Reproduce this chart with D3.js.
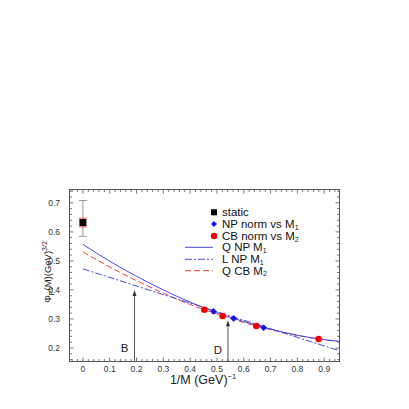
<!DOCTYPE html>
<html>
<head>
<meta charset="utf-8">
<script src="https://cdn.jsdelivr.net/npm/d3@7"></script>
<style>
  body { margin: 0; background: #fff; }
  text { font-family: "Liberation Sans", Arial, sans-serif; }
</style>
</head>
<body>
<script>
// static point with its two error bars
var staticX = 0, staticY = 0.632;
var staticErrOuter = [0.585, 0.708];
var staticErrInner = [0.617, 0.647];

// NP norm vs M1 (blue diamonds)
var npX = [0.487, 0.562, 0.674];
var npY = [0.326, 0.302, 0.270];

// CB norm vs M2 (red circles)
var cbX = [0.453, 0.521, 0.647, 0.879];
var cbY = [0.332, 0.310, 0.276, 0.231];

// curves
var curveX   = [0, 0.1, 0.2, 0.3, 0.4, 0.5, 0.6, 0.7, 0.8, 0.9, 0.955];
var qNpM1    = [0.557, 0.499, 0.447, 0.400, 0.358, 0.322, 0.291, 0.265, 0.244, 0.229, 0.223];
var qCbM2    = [0.531, 0.479, 0.432, 0.389, 0.350, 0.317, 0.288, 0.263, 0.243, 0.228, 0.222];
var lNpX     = [0, 0.955];
var lNpM1    = [0.4725, 0.191];

// arrows B and D
var arrowNames = ["B", "D"];
var arrowX = [0.1925, 0.541];
var arrowTop = [0.400, 0.296];

var xTicks = [0, 0.1, 0.2, 0.3, 0.4, 0.5, 0.6, 0.7, 0.8, 0.9];
var yTicks = [0.2, 0.3, 0.4, 0.5, 0.6, 0.7];

var width = 409, height = 409;
var pLeft = 69.5, pRight = 339.5, pTop = 189.5, pBottom = 361.5;

var svg = d3.select("body").append("svg")
    .attr("width", width)
    .attr("height", height);

var x = d3.scaleLinear().domain([-0.05, 0.957]).range([pLeft, pRight]);
var y = d3.scaleLinear().domain([0.1535, 0.746]).range([pBottom, pTop]);

var axisColor = "#555";
var labelColor = "#333";

// minor / major ticks on all four sides, pointing inward
var xMinor = d3.range(-0.04, 0.951, 0.02);
var yMinor = d3.range(0.16, 0.741, 0.02);
var tickG = svg.append("g").attr("stroke", axisColor).attr("stroke-width", 0.8);
xMinor.forEach(function(v) {
    var major = Math.abs(Math.round(v * 10) - v * 10) < 1e-6;
    var len = major ? 4 : 2.5;
    tickG.append("line").attr("x1", x(v)).attr("x2", x(v)).attr("y1", pBottom).attr("y2", pBottom - len);
    tickG.append("line").attr("x1", x(v)).attr("x2", x(v)).attr("y1", pTop).attr("y2", pTop + len);
});
yMinor.forEach(function(v) {
    var major = Math.abs(Math.round(v * 10) - v * 10) < 1e-6;
    var len = major ? 4 : 2.5;
    tickG.append("line").attr("y1", y(v)).attr("y2", y(v)).attr("x1", pLeft).attr("x2", pLeft + len);
    tickG.append("line").attr("y1", y(v)).attr("y2", y(v)).attr("x1", pRight).attr("x2", pRight - len);
});

// frame
svg.append("rect")
    .attr("x", pLeft).attr("y", pTop)
    .attr("width", pRight - pLeft).attr("height", pBottom - pTop)
    .attr("fill", "none").attr("stroke", axisColor).attr("stroke-width", 1);

// tick labels
svg.append("g").selectAll("text").data(xTicks).enter().append("text")
    .attr("x", function(d) { return x(d); })
    .attr("y", 372)
    .attr("text-anchor", "middle")
    .attr("font-size", 8.5)
    .attr("fill", labelColor)
    .text(function(d) { return d === 0 ? "0" : d3.format(".1f")(d); });

svg.append("g").selectAll("text").data(yTicks).enter().append("text")
    .attr("x", 60)
    .attr("y", function(d) { return y(d) + 3; })
    .attr("text-anchor", "end")
    .attr("font-size", 8.5)
    .attr("fill", labelColor)
    .text(function(d) { return d3.format(".1f")(d); });

// axis titles
var xt = svg.append("text")
    .attr("x", 203).attr("y", 384)
    .attr("text-anchor", "middle")
    .attr("font-size", 12.5)
    .attr("fill", "#222");
xt.append("tspan").text("1/M (GeV)");
xt.append("tspan").attr("dy", -5).attr("font-size", 7.5).text("\u22121");

var yt = svg.append("text")
    .attr("transform", "translate(51,272) rotate(-90)")
    .attr("text-anchor", "middle")
    .attr("font-size", 9.5)
    .attr("fill", "#222");
yt.append("tspan").text("\u03A6");
yt.append("tspan").attr("dy", 2.5).attr("font-size", 7).text("P");
yt.append("tspan").attr("dy", -2.5).text("(M)(GeV)");
yt.append("tspan").attr("dy", -4).attr("font-size", 7).text("3/2");

// curves
var line = d3.line()
    .x(function(d) { return x(d[0]); })
    .y(function(d) { return y(d[1]); })
    .curve(d3.curveMonotoneX);

svg.append("path")
    .datum(d3.zip(curveX, qCbM2))
    .attr("d", line)
    .attr("fill", "none").attr("stroke", "#f03c3c").attr("stroke-width", 1)
    .attr("stroke-dasharray", "6,3");

svg.append("path")
    .datum(d3.zip(lNpX, lNpM1))
    .attr("d", line)
    .attr("fill", "none").attr("stroke", "#4a4ae8").attr("stroke-width", 1)
    .attr("stroke-dasharray", "7,2,2,2");

svg.append("path")
    .datum(d3.zip(curveX, qNpM1))
    .attr("d", line)
    .attr("fill", "none").attr("stroke", "#4a4ae8").attr("stroke-width", 1);

// arrows
var arrowG = svg.append("g");
arrowNames.forEach(function(name, i) {
    var ax = x(arrowX[i]), ay = y(arrowTop[i]);
    arrowG.append("line")
        .attr("x1", ax).attr("x2", ax).attr("y1", pBottom).attr("y2", ay + 4)
        .attr("stroke", "#444").attr("stroke-width", 0.9);
    arrowG.append("path")
        .attr("d", "M" + ax + "," + ay + "L" + (ax - 2) + "," + (ay + 6) + "L" + (ax + 2) + "," + (ay + 6) + "Z")
        .attr("fill", "#333");
    arrowG.append("text")
        .attr("x", ax - 10).attr("y", name === "B" ? 352 : 354)
        .attr("text-anchor", "middle")
        .attr("font-size", 11.5)
        .attr("fill", "#222")
        .text(name);
});

// static point with error bars
function errBar(lo, hi, color, w) {
    var cx = x(staticX);
    svg.append("line").attr("x1", cx).attr("x2", cx).attr("y1", y(lo)).attr("y2", y(hi))
        .attr("stroke", color).attr("stroke-width", 1);
    [lo, hi].forEach(function(v) {
        svg.append("line").attr("x1", cx - w).attr("x2", cx + w).attr("y1", y(v)).attr("y2", y(v))
            .attr("stroke", color).attr("stroke-width", 1);
    });
}
errBar(staticErrOuter[0], staticErrOuter[1], "#999", 4);
errBar(staticErrInner[0], staticErrInner[1], "#f06060", 4);
svg.append("rect")
    .attr("x", x(staticX) - 3.5).attr("y", y(staticY) - 3.5)
    .attr("width", 7).attr("height", 7)
    .attr("fill", "#000");

// data markers
var diamond = d3.symbol().type(d3.symbolSquare).size(22);
svg.append("g").selectAll("circle").data(d3.zip(cbX, cbY)).enter().append("circle")
    .attr("cx", function(d) { return x(d[0]); })
    .attr("cy", function(d) { return y(d[1]); })
    .attr("r", 3.3)
    .attr("fill", "#f00000");
svg.append("g").selectAll("path").data(d3.zip(npX, npY)).enter().append("path")
    .attr("d", diamond)
    .attr("transform", function(d) { return "translate(" + x(d[0]) + "," + y(d[1]) + ") rotate(45)"; })
    .attr("fill", "#1010f0");

// legend
var lgX = 214, lgText = 222;
var rows = [212.3, 224, 236, 247.3, 259.3, 270.7];
var lg = svg.append("g");
lg.append("rect").attr("x", lgX - 3).attr("y", rows[0] - 3).attr("width", 6).attr("height", 6).attr("fill", "#000");
lg.append("path").attr("d", d3.symbol().type(d3.symbolSquare).size(18))
    .attr("transform", "translate(" + lgX + "," + rows[1] + ") rotate(45)").attr("fill", "#1010f0");
lg.append("circle").attr("cx", lgX).attr("cy", rows[2]).attr("r", 3.2).attr("fill", "#f00000");
lg.append("line").attr("x1", 185).attr("x2", 213).attr("y1", rows[3]).attr("y2", rows[3])
    .attr("stroke", "#4a4ae8").attr("stroke-width", 1);
lg.append("line").attr("x1", 185).attr("x2", 213).attr("y1", rows[4]).attr("y2", rows[4])
    .attr("stroke", "#4a4ae8").attr("stroke-width", 1).attr("stroke-dasharray", "7,2,2,2");
lg.append("line").attr("x1", 185).attr("x2", 213).attr("y1", rows[5]).attr("y2", rows[5])
    .attr("stroke", "#f03c3c").attr("stroke-width", 1).attr("stroke-dasharray", "6,3");

var labels = [["static", null], ["NP norm vs M", "1"], ["CB norm vs M", "2"],
              ["Q NP M", "1"], ["L NP M", "1"], ["Q CB M", "2"]];
labels.forEach(function(l, i) {
    var t = lg.append("text")
        .attr("x", lgText).attr("y", rows[i] + 4)
        .attr("font-size", 11.5)
        .attr("fill", "#111");
    t.append("tspan").text(l[0]);
    if (l[1]) t.append("tspan").attr("dy", 1.5).attr("font-size", 7).text(l[1]);
});
</script>
</body>
</html>
